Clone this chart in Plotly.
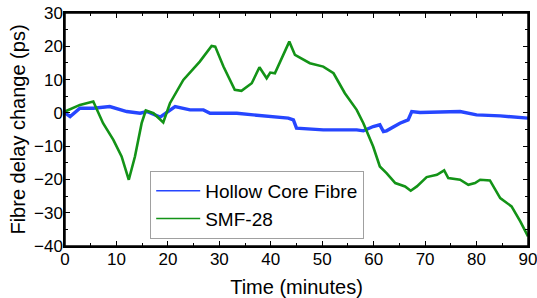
import plotly.graph_objects as go

# Hollow Core Fibre (blue)
hcf_t = [0, 1, 2.9, 5.5, 8.7, 12, 14.6, 15.9, 18.5, 20.4, 21.4, 24.3, 26.9, 28.2, 33.4,
         36.6, 39.9, 43.4, 44.4, 45.0, 50.2, 56.7, 58.0, 59.9, 61.2, 61.9, 62.5, 65.1,
         66.7, 67.4, 69, 76.8, 80, 84.6, 90]
hcf_d = [0, -1.1, 1.4, 1.4, 1.9, 0.4, -0.1, 0.4, -1.3, 0.9, 1.9, 0.9, 0.9, -0.1, -0.1,
         -0.6, -1.1, -1.6, -2.1, -4.6, -5.1, -5.1, -5.4, -4.1, -3.6, -5.6, -5.4, -3.1,
         -2.1, 0.4, 0.1, 0.4, -0.6, -0.9, -1.6]

# SMF-28 (green)
smf_t = [0, 2.9, 5.5, 7.4, 9.4, 11.0, 12.4, 13.6, 14.9, 15.7, 17.2, 19.1, 20.4, 23, 26.2,
         28.5, 29.2, 30.8, 33.0, 34.3, 36.3, 37.8, 39.2, 39.9, 40.8, 43.6, 44.7, 47.6,
         50.2, 52.2, 54.4, 56.7, 58.0, 59.9, 61.2, 62.5, 64.2, 66.1, 67.2, 68.4, 70.3,
         72.3, 73.7, 74.5, 76.8, 78.4, 79.7, 80.7, 82.6, 84.6, 86.8, 88.5, 90]
smf_d = [0.4, 2.4, 3.4, -3.1, -8.1, -13.1, -20.1, -13.1, -3.1, 0.7, -0.1, -2.9, 2.9, 9.9,
         15.4, 20.1, 19.9, 13.9, 6.9, 6.6, 8.9, 13.7, 10.4, 12.1, 11.9, 21.4, 17.4, 14.9,
         13.9, 11.9, 5.9, 0.9, -3.1, -10.1, -16.1, -18.1, -21.1, -22.1, -23.4, -22.1,
         -19.3, -18.6, -17.3, -19.6, -20.1, -21.6, -21.1, -20.1, -20.3, -25.6, -28.1,
         -32.6, -37.1]

series_names = ["Hollow Core Fibre", "SMF-28"]
series_colors = ["#2646ff", "#139317"]

x_ticks = [0, 10, 20, 30, 40, 50, 60, 70, 80, 90]
y_ticks = [-40, -30, -20, -10, 0, 10, 20, 30]

font = "Liberation Sans, Arial, sans-serif"

fig = go.Figure()
fig.add_trace(go.Scatter(x=hcf_t, y=hcf_d, mode="lines", name=series_names[0],
                         line=dict(color=series_colors[0], width=3.4), showlegend=False))
fig.add_trace(go.Scatter(x=smf_t, y=smf_d, mode="lines", name=series_names[1],
                         line=dict(color=series_colors[1], width=2.6), showlegend=False))
# legend entries with thin sample lines
for nm, col in zip(series_names, series_colors):
    fig.add_trace(go.Scatter(x=[None], y=[None], mode="lines", name=nm,
                             line=dict(color=col, width=1.5)))

axis_common = dict(showline=True, linecolor="black", linewidth=1.5, mirror="ticks",
                   ticks="inside", ticklen=5, tickwidth=1.2, tickcolor="black",
                   showgrid=False, zeroline=False, automargin=False,
                   ticklabelstandoff=-3, ticklabeloverflow="allow",
                   tickfont=dict(family=font, size=17, color="black"))

fig.update_xaxes(range=[0, 90], tickvals=x_ticks,
                 minor=dict(ticks="inside", ticklen=3, dtick=5, tickcolor="black", showgrid=False),
                 title=dict(text="Time (minutes)", font=dict(family=font, size=20, color="black"), standoff=13),
                 **axis_common)
fig.update_yaxes(range=[-40, 30], tickvals=y_ticks,
                 minor=dict(ticks="inside", ticklen=3, dtick=5, tickcolor="black", showgrid=False),
                 title=dict(text="Fibre delay change (ps)", font=dict(family=font, size=20, color="black"), standoff=3),
                 **axis_common)

fig.update_layout(
    width=537, height=298,
    margin=dict(l=65, r=9, t=13, b=52),
    plot_bgcolor="white", paper_bgcolor="white",
    showlegend=True,
    legend=dict(x=0.184, y=0.322, xanchor="left", yanchor="top",
                bordercolor="#a0a0a0", borderwidth=1, bgcolor="white",
                font=dict(family=font, size=19, color="black"),
                tracegroupgap=0, itemwidth=44),
    shapes=[dict(type="rect", xref="paper", yref="paper", x0=0, x1=1, y0=0, y1=1,
                 line=dict(color="black", width=1.5), fillcolor="rgba(0,0,0,0)", layer="above")],
)

fig.write_html("out.html", config={"displayModeBar": False},
               post_script="document.body.style.margin='0';")
